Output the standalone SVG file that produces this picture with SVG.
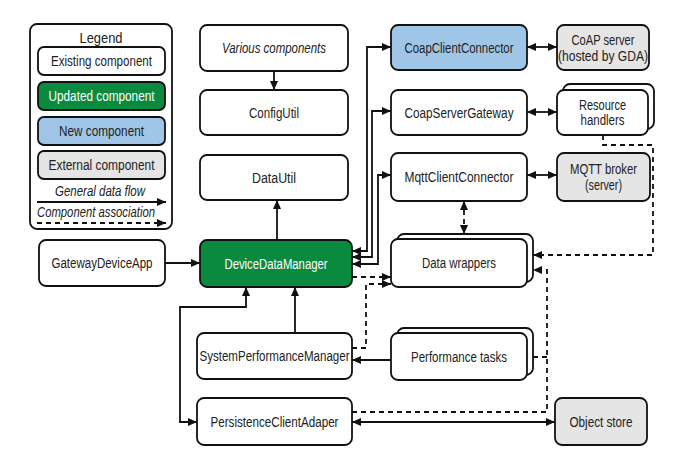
<svg xmlns="http://www.w3.org/2000/svg" width="675" height="458" viewBox="0 0 675 458">
<style>
text{font-family:"Liberation Sans",Arial,sans-serif;font-size:14px;fill:#222;text-anchor:middle;dominant-baseline:central}
.it{font-style:italic}
.box{fill:#fff;stroke:#111;stroke-width:1.8}
.upd{fill:#0a8a3e;stroke:#111;stroke-width:1.8}
.new{fill:#9fc6e7;stroke:#111;stroke-width:1.8}
.ext{fill:#e5e5e5;stroke:#111;stroke-width:1.8}
.w{fill:#fff}
.ln{fill:none;stroke:#111;stroke-width:1.8}
.ds{fill:none;stroke:#111;stroke-width:1.8;stroke-dasharray:5 4}
.a{marker-end:url(#ah)}
.aa{marker-end:url(#ah);marker-start:url(#ah)}
</style>
<defs>
<marker id="ah" viewBox="0 0 9 8" refX="9" refY="4" markerWidth="9" markerHeight="8" markerUnits="userSpaceOnUse" orient="auto-start-reverse">
<path d="M0,0 L9,4 L0,8 z" fill="#111"/>
</marker>
</defs>

<g id="legend">
<rect x="30" y="24" width="142" height="205" rx="7" class="box"/>
<text x="101" y="37" style="font-size:15px" textLength="43" lengthAdjust="spacingAndGlyphs">Legend</text>
<rect x="38" y="47" width="127" height="28" rx="6" class="box"/>
<text x="101.5" y="61" textLength="101" lengthAdjust="spacingAndGlyphs">Existing component</text>
<rect x="38" y="82" width="127" height="28" rx="6" class="upd"/>
<text x="101.5" y="96" class="w" textLength="106" lengthAdjust="spacingAndGlyphs">Updated component</text>
<rect x="38" y="117" width="127" height="28" rx="6" class="new"/>
<text x="101.5" y="131" textLength="85" lengthAdjust="spacingAndGlyphs">New component</text>
<rect x="38" y="151" width="127" height="28" rx="6" class="ext"/>
<text x="101.5" y="165" textLength="106" lengthAdjust="spacingAndGlyphs">External component</text>
<text x="100" y="191" class="it" textLength="90" lengthAdjust="spacingAndGlyphs">General data flow</text>
<path d="M37,202 H166" class="ln a"/>
<text x="96" y="212" class="it" textLength="118" lengthAdjust="spacingAndGlyphs">Component association</text>
<path d="M37,223 H166" class="ds a"/>
</g>

<g id="various-components">
<rect x="200" y="25" width="148" height="46" rx="7" class="box"/>
<text x="274" y="48" class="it" textLength="104" lengthAdjust="spacingAndGlyphs">Various components</text>
</g>
<g id="configutil">
<rect x="200" y="90" width="148" height="45" rx="7" class="box"/>
<text x="274" y="112.5" textLength="50" lengthAdjust="spacingAndGlyphs">ConfigUtil</text>
</g>
<g id="datautil">
<rect x="200" y="155" width="148" height="45" rx="7" class="box"/>
<text x="274" y="177.5" textLength="44" lengthAdjust="spacingAndGlyphs">DataUtil</text>
</g>
<g id="gatewaydeviceapp">
<rect x="39" y="240" width="126" height="46" rx="7" class="box"/>
<text x="102" y="263" textLength="101" lengthAdjust="spacingAndGlyphs">GatewayDeviceApp</text>
</g>
<g id="devicedatamanager">
<rect x="200" y="240" width="152" height="47" rx="7" class="upd"/>
<text x="276" y="263.5" class="w" textLength="103" lengthAdjust="spacingAndGlyphs">DeviceDataManager</text>
</g>
<g id="systemperformancemanager">
<rect x="197" y="333" width="155" height="46" rx="7" class="box"/>
<text x="274.5" y="356" textLength="150" lengthAdjust="spacingAndGlyphs">SystemPerformanceManager</text>
</g>
<g id="persistenceclientadaper">
<rect x="197" y="398" width="155" height="47" rx="7" class="box"/>
<text x="274.5" y="421.5" textLength="128" lengthAdjust="spacingAndGlyphs">PersistenceClientAdaper</text>
</g>
<g id="coapclientconnector">
<rect x="391" y="25" width="136" height="45" rx="7" class="new"/>
<text x="459" y="47.5" textLength="109" lengthAdjust="spacingAndGlyphs">CoapClientConnector</text>
</g>
<g id="coap-server">
<rect x="557" y="25" width="92" height="45" rx="7" class="ext"/>
<text x="603" y="40" textLength="63" lengthAdjust="spacingAndGlyphs">CoAP server</text>
<text x="603" y="56" textLength="90" lengthAdjust="spacingAndGlyphs">(hosted by GDA)</text>
</g>
<g id="coapservergateway">
<rect x="391" y="90" width="136" height="45" rx="7" class="box"/>
<text x="459" y="112.5" textLength="109" lengthAdjust="spacingAndGlyphs">CoapServerGateway</text>
</g>
<g id="resource-handlers">
<rect x="563" y="84" width="91" height="45" rx="7" class="box"/>
<rect x="557" y="90" width="91" height="45" rx="7" class="box"/>
<text x="602.5" y="105" textLength="47" lengthAdjust="spacingAndGlyphs">Resource</text>
<text x="602.5" y="120" textLength="44" lengthAdjust="spacingAndGlyphs">handlers</text>
</g>
<g id="mqttclientconnector">
<rect x="391" y="153" width="136" height="48" rx="7" class="box"/>
<text x="459" y="177" textLength="109" lengthAdjust="spacingAndGlyphs">MqttClientConnector</text>
</g>
<g id="mqtt-broker">
<rect x="557" y="153" width="93" height="48" rx="7" class="ext"/>
<text x="603.5" y="169" textLength="67" lengthAdjust="spacingAndGlyphs">MQTT broker</text>
<text x="603.5" y="185" textLength="37" lengthAdjust="spacingAndGlyphs">(server)</text>
</g>
<g id="data-wrappers">
<rect x="397" y="234" width="136" height="48" rx="7" class="box"/>
<rect x="391" y="239" width="136" height="48" rx="7" class="box"/>
<text x="459" y="263" textLength="74" lengthAdjust="spacingAndGlyphs">Data wrappers</text>
</g>
<g id="performance-tasks">
<rect x="397" y="328" width="136" height="47" rx="7" class="box"/>
<rect x="391" y="333" width="136" height="47" rx="7" class="box"/>
<text x="459" y="356.5" textLength="96" lengthAdjust="spacingAndGlyphs">Performance tasks</text>
</g>
<g id="object-store">
<rect x="555" y="398" width="92" height="47" rx="7" class="ext"/>
<text x="601" y="421.5" textLength="63" lengthAdjust="spacingAndGlyphs">Object store</text>
</g>

<g id="connectors">
<path d="M274,71 V90" class="ln a"/>
<path d="M277,240 V200" class="ln a"/>
<path d="M165,263 H200" class="ln a"/>
<path d="M295,333 V287" class="ln a"/>
<path d="M246,287 V307 H180 V422 H197" class="ln aa"/>
<path d="M352,251 H367 V47 H391" class="ln aa"/>
<path d="M352,257 H372 V111 H391" class="ln aa"/>
<path d="M352,264 H378 V175 H391" class="ln aa"/>
<path d="M527,47 H557" class="ln aa"/>
<path d="M527,112 H557" class="ln aa"/>
<path d="M527,175 H557" class="ln aa"/>
<path d="M391,360 H352" class="ln a"/>
<path d="M352,422 H555" class="ln aa"/>
<path d="M352,277 H391" class="ds a"/>
<path d="M352,348 H366 V284 H391" class="ds a"/>
<path d="M464,201 V234" class="ds aa"/>
<path d="M603,135 V145 H653 V255 H533" class="ds a"/>
<path d="M352,412 H547 V270 H533" class="ds a"/>
<path d="M533,357 H547" class="ds"/>
</g>
</svg>
